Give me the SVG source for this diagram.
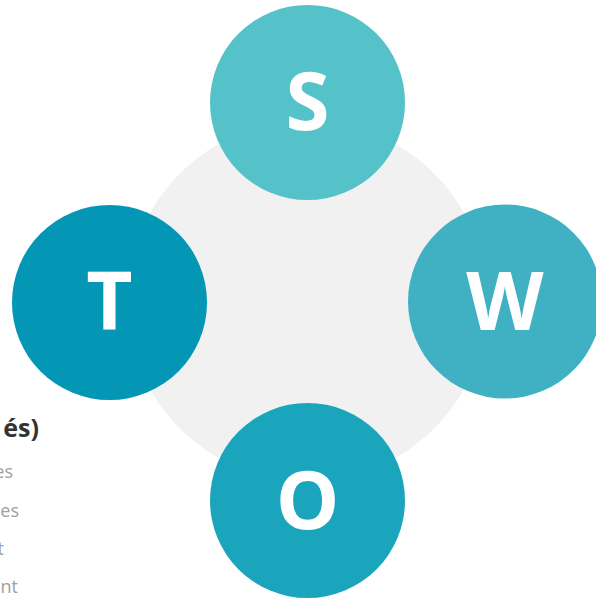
<svg xmlns="http://www.w3.org/2000/svg" width="596" height="600" viewBox="0 0 596 600">
  <style>
    .letter { font-family: "Open Sans", "Liberation Sans", sans-serif; font-weight: 700; font-size: 80px; fill: #ffffff; text-anchor: middle; }
    .heading { font-family: "Open Sans", "Liberation Sans", sans-serif; font-weight: 700; font-size: 25px; fill: #333333; text-anchor: end; }
    .item { font-family: "Open Sans", "Liberation Sans", sans-serif; font-size: 18px; fill: #a0a0a0; text-anchor: end; }
  </style>
  <rect width="596" height="600" fill="#ffffff"/>

  <!-- backdrop disc behind the four quadrants -->
  <circle id="hub" cx="307" cy="301" r="180" fill="#f1f1f1"/>

  <!-- legend text running in from the left edge -->
  <g id="legend">
    <text class="heading" x="39" y="437">és)</text>
    <text class="item" x="13" y="478">es</text>
    <text class="item" x="19" y="517">es</text>
    <text class="item" x="4" y="555">t</text>
    <text class="item" x="18" y="593">nt</text>
  </g>

  <g id="connectors"></g>

  <g id="node-s">
    <circle cx="307.5" cy="102.5" r="97.5" fill="#54c2c8"/>
    <text class="letter" x="307.5" y="130">S</text>
  </g>
  <g id="node-w">
    <circle cx="505" cy="301.5" r="97" fill="#3fb1c2"/>
    <text class="letter" x="505" y="330">W</text>
  </g>
  <g id="node-o">
    <circle cx="307.5" cy="500.5" r="97.5" fill="#1ba5bc"/>
    <text class="letter" x="307.5" y="529">O</text>
  </g>
  <g id="node-t">
    <circle cx="109.5" cy="302.5" r="97.5" fill="#0396b5"/>
    <text class="letter" x="109.5" y="330">T</text>
  </g>
</svg>
